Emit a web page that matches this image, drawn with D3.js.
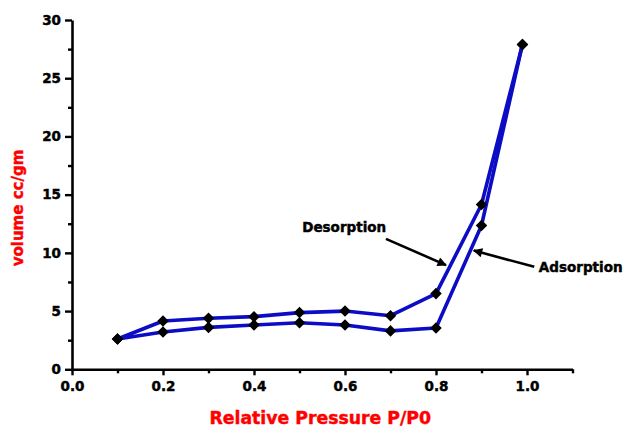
<!DOCTYPE html>
<html>
<head>
<meta charset="utf-8">
<script src="https://cdn.jsdelivr.net/npm/d3@7/dist/d3.min.js"></script>
<style>
  html, body { margin: 0; padding: 0; background: #ffffff; }
  svg { display: block; font-family: "DejaVu Sans", Verdana, sans-serif; }
</style>
</head>
<body>
<svg id="chart" width="628" height="427"></svg>
<script>
// Relative pressure P/P0
const pressure = [0.1, 0.2, 0.3, 0.4, 0.5, 0.6, 0.7, 0.8, 0.9, 0.99];
// Volume adsorbed (cc/gm)
const adsorption = [2.6, 3.2, 3.6, 3.8, 4.0, 3.8, 3.3, 3.55, 12.35, 27.9];
const desorption = [2.6, 4.15, 4.38, 4.52, 4.87, 5.0, 4.6, 6.5, 14.15, 27.9];

const xTicks = [0.0, 0.2, 0.4, 0.6, 0.8, 1.0];
const xMinorTicks = [0.1, 0.3, 0.5, 0.7, 0.9, 1.1];
const yTicks = [0, 5, 10, 15, 20, 25, 30];
const yMinorTicks = [2.5, 7.5, 12.5, 17.5, 22.5, 27.5];

// Callout labels: text anchor and arrow (tail -> head) in data units
const callouts = [
  { text: "Desorption", tx: 0.506, ty: 12.1, anchor: "start", x1: 0.69, y1: 11.2, x2: 0.822, y2: 8.95 },
  { text: "Adsorption", tx: 1.026, ty: 8.7, anchor: "start", x1: 1.016, y1: 8.8, x2: 0.883, y2: 10.2 }
];

const svg = d3.select("#chart");
const x = d3.scaleLinear().domain([0, 1.1]).range([72, 572.5]);
const y = d3.scaleLinear().domain([0, 30]).range([369.3, 20]);

const axisColor = "#000";
const lineColor = "#0c0cc4";

// Heavy bold text helper
function heavy(sel, color, size) {
  sel.attr("font-family", "'DejaVu Sans', Verdana, sans-serif")
    .attr("font-weight", "bold")
    .attr("font-size", size)
    .attr("fill", color)
    .attr("stroke", color)
    .attr("stroke-width", 0.45)
    .attr("paint-order", "stroke");
  return sel;
}

// Y axis
const yAxis = svg.append("g").attr("transform", `translate(${x(0)},0)`);
yAxis.call(d3.axisLeft(y).tickValues(yTicks).tickFormat(d3.format("d")).tickSize(7).tickSizeOuter(0).tickPadding(4));
yAxis.append("g").call(d3.axisLeft(y).tickValues(yMinorTicks).tickFormat("").tickSize(4).tickSizeOuter(0))
  .select(".domain").remove();

// X axis
const xAxis = svg.append("g").attr("transform", `translate(0,${y(0)})`);
xAxis.call(d3.axisBottom(x).tickValues(xTicks).tickFormat(d3.format(".1f")).tickSize(6).tickSizeOuter(0).tickPadding(6));
xAxis.append("g").call(d3.axisBottom(x).tickValues(xMinorTicks).tickFormat("").tickSize(4).tickSizeOuter(0))
  .select(".domain").remove();

svg.selectAll(".domain").attr("stroke", axisColor).attr("stroke-width", 2.6);
svg.selectAll(".tick line").attr("stroke", axisColor).attr("stroke-width", 2.4);
heavy(svg.selectAll(".tick text"), "#000", 13.5);

// Series lines
const lineGen = d3.line().x(d => x(d[0])).y(d => y(d[1]));
const series = [
  pressure.map((p, i) => [p, adsorption[i]]),
  pressure.map((p, i) => [p, desorption[i]])
];
svg.selectAll("path.series")
  .data(series)
  .join("path")
  .attr("class", "series")
  .attr("d", lineGen)
  .attr("fill", "none")
  .attr("stroke", lineColor)
  .attr("stroke-width", 3.6)
  .attr("stroke-linejoin", "round");

// Diamond markers
const diamond = d3.symbol().type(d3.symbolDiamond2 || d3.symbolDiamond).size(85);
series.forEach(s => {
  svg.append("g").selectAll("path")
    .data(s)
    .join("path")
    .attr("d", diamond)
    .attr("transform", d => `translate(${x(d[0])},${y(d[1])})`)
    .attr("fill", "#000");
});

// Arrow marker
svg.append("defs").append("marker")
  .attr("id", "head")
  .attr("viewBox", "0 0 10 10")
  .attr("refX", 9).attr("refY", 5)
  .attr("markerWidth", 4.2).attr("markerHeight", 3.6)
  .attr("orient", "auto")
  .append("path").attr("d", "M0,0 L10,5 L0,10 Z").attr("fill", "#000");

callouts.forEach(c => {
  svg.append("line")
    .attr("x1", x(c.x1)).attr("y1", y(c.y1))
    .attr("x2", x(c.x2)).attr("y2", y(c.y2))
    .attr("stroke", "#000").attr("stroke-width", 2.6)
    .attr("marker-end", "url(#head)");
  heavy(svg.append("text"), "#000", 13.5)
    .attr("x", x(c.tx)).attr("y", y(c.ty))
    .attr("text-anchor", c.anchor)
    .attr("dominant-baseline", "middle")
    .text(c.text);
});

// Axis titles
heavy(svg.append("text"), "#ff0000", 17.3)
  .attr("x", (x(0) + x(1.1)) / 2 - 2)
  .attr("y", 419)
  .attr("text-anchor", "middle")
  .attr("dominant-baseline", "middle")
  .text("Relative Pressure P/P0");

heavy(svg.append("text"), "#ff0000", 15)
  .attr("transform", "translate(18,208) rotate(-90)")
  .attr("text-anchor", "middle")
  .attr("dominant-baseline", "middle")
  .text("volume cc/gm");
</script>
</body>
</html>
